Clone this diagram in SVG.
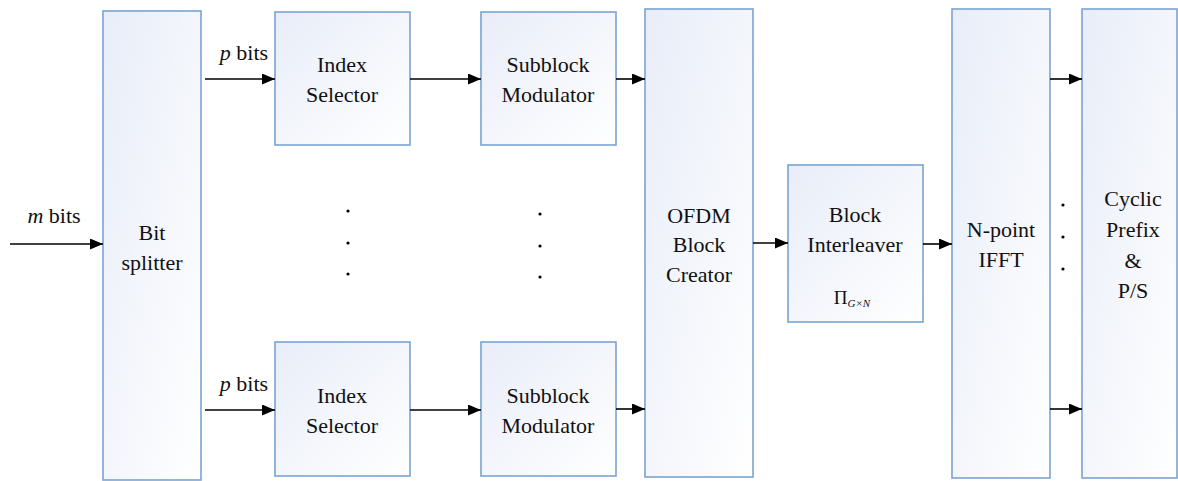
<svg xmlns="http://www.w3.org/2000/svg" width="1178" height="481" viewBox="0 0 1178 481">
  <style>
    .box { fill: url(#boxFill); stroke: #7ba3d3; stroke-width: 1.6; }
    .lbl { font-family: 'Liberation Serif', Tinos, 'Times New Roman', Times, 'Nimbus Roman', 'Nimbus Roman No9 L', 'Noto Serif', 'DejaVu Serif', FreeSerif, serif; font-size: 22px; fill: #111; text-anchor: middle; }
    .edge { stroke: #000; stroke-width: 1.6; fill: none; marker-end: url(#arrow); }
    .dot { fill: #000; }
  </style>
  <defs>
    <linearGradient id="boxFill" x1="0" y1="0" x2="1" y2="1">
      <stop offset="0" stop-color="#e8edf8"/>
      <stop offset="1" stop-color="#ffffff"/>
    </linearGradient>
    <marker id="arrow" viewBox="0 0 13 11" refX="13" refY="5.5" markerWidth="13" markerHeight="11" markerUnits="userSpaceOnUse" orient="auto">
      <path d="M0,0 L13,5.5 L0,11 Z" fill="#000"/>
    </marker>
  </defs>

  <rect width="1178" height="481" fill="#fff"/>

  <g id="bit-splitter">
    <rect class="box" x="103" y="11" width="98" height="469"/>
    <text class="lbl" x="152" y="240">Bit</text>
    <text class="lbl" x="152" y="270">splitter</text>
  </g>

  <g id="index-selector-1">
    <rect class="box" x="275" y="12" width="135" height="133"/>
    <text class="lbl" x="342" y="72">Index</text>
    <text class="lbl" x="342" y="102">Selector</text>
  </g>

  <g id="subblock-modulator-1">
    <rect class="box" x="481" y="12" width="135" height="133"/>
    <text class="lbl" x="548" y="72">Subblock</text>
    <text class="lbl" x="548" y="102">Modulator</text>
  </g>

  <g id="index-selector-2">
    <rect class="box" x="275" y="342" width="135" height="134"/>
    <text class="lbl" x="342" y="403">Index</text>
    <text class="lbl" x="342" y="433">Selector</text>
  </g>

  <g id="subblock-modulator-2">
    <rect class="box" x="481" y="342" width="135" height="134"/>
    <text class="lbl" x="548" y="403">Subblock</text>
    <text class="lbl" x="548" y="433">Modulator</text>
  </g>

  <g id="ofdm-block-creator">
    <rect class="box" x="645" y="9" width="108" height="468"/>
    <text class="lbl" x="699" y="223">OFDM</text>
    <text class="lbl" x="699" y="252">Block</text>
    <text class="lbl" x="699" y="282">Creator</text>
  </g>

  <g id="block-interleaver">
    <rect class="box" x="788" y="165" width="135" height="157"/>
    <text class="lbl" x="855" y="222">Block</text>
    <text class="lbl" x="855" y="252">Interleaver</text>
    <text class="lbl" x="852" y="304" style="font-size:19px">Π<tspan style="font-size:11px;font-style:italic" dy="3">G×N</tspan></text>
  </g>

  <g id="n-point-ifft">
    <rect class="box" x="952" y="9" width="98" height="469"/>
    <text class="lbl" x="1001" y="237">N-point</text>
    <text class="lbl" x="1001" y="267">IFFT</text>
  </g>

  <g id="cyclic-prefix">
    <rect class="box" x="1082" y="9" width="95" height="469"/>
    <text class="lbl" x="1133" y="206">Cyclic</text>
    <text class="lbl" x="1133" y="237">Prefix</text>
    <text class="lbl" x="1133" y="268">&amp;</text>
    <text class="lbl" x="1133" y="298">P/S</text>
  </g>

  <g id="connectors">
    <line class="edge" x1="10" y1="244" x2="103" y2="244"/>
    <line class="edge" x1="205" y1="79" x2="275" y2="79"/>
    <line class="edge" x1="205" y1="410" x2="275" y2="410"/>
    <line class="edge" x1="410" y1="79" x2="481" y2="79"/>
    <line class="edge" x1="410" y1="410" x2="481" y2="410"/>
    <line class="edge" x1="616" y1="79" x2="645" y2="79"/>
    <line class="edge" x1="616" y1="409" x2="645" y2="409"/>
    <line class="edge" x1="753" y1="243" x2="788" y2="243"/>
    <line class="edge" x1="923" y1="244" x2="952" y2="244"/>
    <line class="edge" x1="1050" y1="79" x2="1082" y2="79"/>
    <line class="edge" x1="1050" y1="409" x2="1082" y2="409"/>
  </g>

  <g id="edge-labels">
    <text class="lbl" x="244" y="60"><tspan font-style="italic">p</tspan> bits</text>
    <text class="lbl" x="244" y="391"><tspan font-style="italic">p</tspan> bits</text>
    <text class="lbl" x="54" y="223"><tspan font-style="italic">m</tspan> bits</text>
  </g>

  <g id="ellipses">
    <circle class="dot" cx="348" cy="211" r="1.6"/>
    <circle class="dot" cx="348" cy="243" r="1.6"/>
    <circle class="dot" cx="348" cy="274" r="1.6"/>
    <circle class="dot" cx="540" cy="214" r="1.6"/>
    <circle class="dot" cx="540" cy="246" r="1.6"/>
    <circle class="dot" cx="540" cy="277" r="1.6"/>
    <circle class="dot" cx="1063" cy="205" r="1.6"/>
    <circle class="dot" cx="1063" cy="237" r="1.6"/>
    <circle class="dot" cx="1063" cy="269" r="1.6"/>
  </g>
</svg>
